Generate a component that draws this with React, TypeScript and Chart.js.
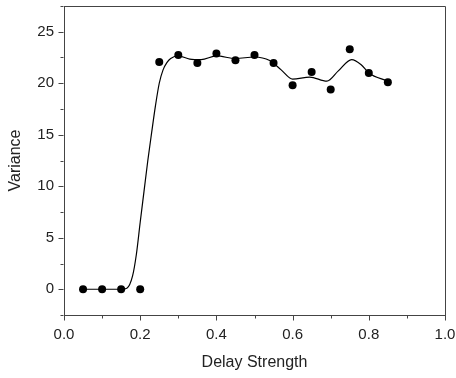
import React, { useEffect, useRef } from "react";
import { Chart, registerables } from "chart.js";

Chart.register(...registerables);

const pointX = [0.05, 0.1, 0.15, 0.2, 0.25, 0.3, 0.35, 0.4, 0.45, 0.5, 0.55, 0.6, 0.65, 0.7, 0.75, 0.8, 0.85];
const pointY = [0, 0, 0, 0, 22.07, 22.75, 21.97, 22.9, 22.23, 22.75, 21.97, 19.8, 21.1, 19.4, 23.3, 21.0, 20.1];

const curveX = [0.05, 0.1, 0.15, 0.165, 0.18, 0.19, 0.2, 0.21, 0.22, 0.23, 0.24, 0.25, 0.26, 0.27, 0.28, 0.3, 0.33, 0.36, 0.4, 0.45, 0.5, 0.54, 0.57, 0.6, 0.645, 0.69, 0.72, 0.755, 0.78, 0.8, 0.85];
const curveY = [0, 0, 0, 0.1, 1.3, 3.4, 6.5, 9.5, 12.5, 15.2, 17.8, 20.0, 21.3, 22.0, 22.4, 22.65, 22.35, 22.3, 22.65, 22.4, 22.55, 22.2, 21.3, 20.4, 20.6, 20.2, 21.2, 22.3, 21.8, 21.0, 20.2];

const xMajorTicks = [0, 0.2, 0.4, 0.6, 0.8, 1.0];
const xMinorTicks = [0.1, 0.3, 0.5, 0.7, 0.9];
const yMajorTicks = [0, 5, 10, 15, 20, 25];
const yMinorTicks = [-2.5, 2.5, 7.5, 12.5, 17.5, 22.5, 27.5];

const AXIS_COLOR = "#444";
const FONT = "Arial, 'Liberation Sans', Helvetica, sans-serif";

const tickPlugin = {
  id: "customTicks",
  afterDraw(chart: any) {
    const { ctx, chartArea } = chart;
    const xs = chart.scales.x;
    const ys = chart.scales.y;
    ctx.save();
    ctx.strokeStyle = AXIS_COLOR;
    ctx.lineWidth = 1;
    ctx.beginPath();
    ctx.moveTo(chartArea.left, chartArea.top + 0.5);
    ctx.lineTo(chartArea.right + 0.5, chartArea.top + 0.5);
    ctx.lineTo(chartArea.right + 0.5, chartArea.bottom);
    const b = chartArea.bottom + 0.5;
    const l = chartArea.left - 0.5;
    xMajorTicks.forEach((v) => {
      const px = Math.round(xs.getPixelForValue(v)) + 0.5;
      ctx.moveTo(px, b);
      ctx.lineTo(px, b + 5);
    });
    xMinorTicks.forEach((v) => {
      const px = Math.round(xs.getPixelForValue(v)) + 0.5;
      ctx.moveTo(px, b);
      ctx.lineTo(px, b + 3);
    });
    yMajorTicks.forEach((v) => {
      const py = Math.round(ys.getPixelForValue(v)) + 0.5;
      ctx.moveTo(l, py);
      ctx.lineTo(l - 5, py);
    });
    yMinorTicks.forEach((v) => {
      const py = Math.round(ys.getPixelForValue(v)) + 0.5;
      ctx.moveTo(l, py);
      ctx.lineTo(l - 3, py);
    });
    ctx.stroke();
    ctx.restore();
  },
};

export default function App() {
  const canvasRef = useRef<HTMLCanvasElement>(null);

  useEffect(() => {
    document.body.style.margin = "0";
    const canvas = canvasRef.current;
    if (!canvas) return;
    const chart = new Chart(canvas, {
      type: "scatter",
      data: {
        datasets: [
          {
            type: "line",
            label: "Fit",
            data: curveX.map((x, i) => ({ x, y: curveY[i] })),
            borderColor: "#000",
            borderWidth: 1.2,
            pointRadius: 0,
            cubicInterpolationMode: "monotone",
            fill: false,
          } as any,
          {
            label: "Variance",
            data: pointX.map((x, i) => ({ x, y: pointY[i] })),
            backgroundColor: "#000",
            borderColor: "#000",
            pointRadius: 4,
            pointBorderWidth: 0,
          },
        ],
      },
      options: {
        responsive: false,
        animation: false,
        layout: { padding: { top: 6, right: 11, left: 0, bottom: 0 } },
        plugins: { legend: { display: false }, tooltip: { enabled: false } },
        scales: {
          x: {
            type: "linear",
            min: 0,
            max: 1.0,
            afterBuildTicks: (scale: any) => {
              scale.ticks = xMajorTicks.map((v) => ({ value: v }));
            },
            afterFit: (scale: any) => {
              scale.height = 63;
              scale.paddingLeft = 0;
              scale.paddingRight = 0;
            },
            grid: { drawOnChartArea: false, drawTicks: false },
            border: { display: true, color: AXIS_COLOR, width: 1 },
            ticks: {
              padding: 11,
              color: "#222",
              font: { family: FONT, size: 15 },
              maxRotation: 0,
              callback: (v: any) => Number(v).toFixed(1),
            },
            title: {
              display: true,
              text: "Delay Strength",
              color: "#222",
              font: { family: FONT, size: 16 },
              padding: { top: 0, bottom: 6 },
            },
          },
          y: {
            type: "linear",
            min: -2.5,
            max: 27.5,
            afterBuildTicks: (scale: any) => {
              scale.ticks = yMajorTicks.map((v) => ({ value: v }));
            },
            afterFit: (scale: any) => {
              scale.width = 64;
              scale.paddingTop = 0;
              scale.paddingBottom = 0;
            },
            grid: { drawOnChartArea: false, drawTicks: false },
            border: { display: true, color: AXIS_COLOR, width: 1 },
            ticks: {
              padding: 10,
              color: "#222",
              font: { family: FONT, size: 15 },
              callback: (v: any) => String(v),
            },
            title: {
              display: true,
              text: "Variance",
              color: "#222",
              font: { family: FONT, size: 16 },
              padding: { top: 6, bottom: 0 },
            },
          },
        },
      },
      plugins: [tickPlugin],
    });
    return () => chart.destroy();
  }, []);

  return (
    <div style={{ width: 456, height: 378 }}>
      <canvas ref={canvasRef} width={456} height={378} style={{ display: "block" }} />
    </div>
  );
}
